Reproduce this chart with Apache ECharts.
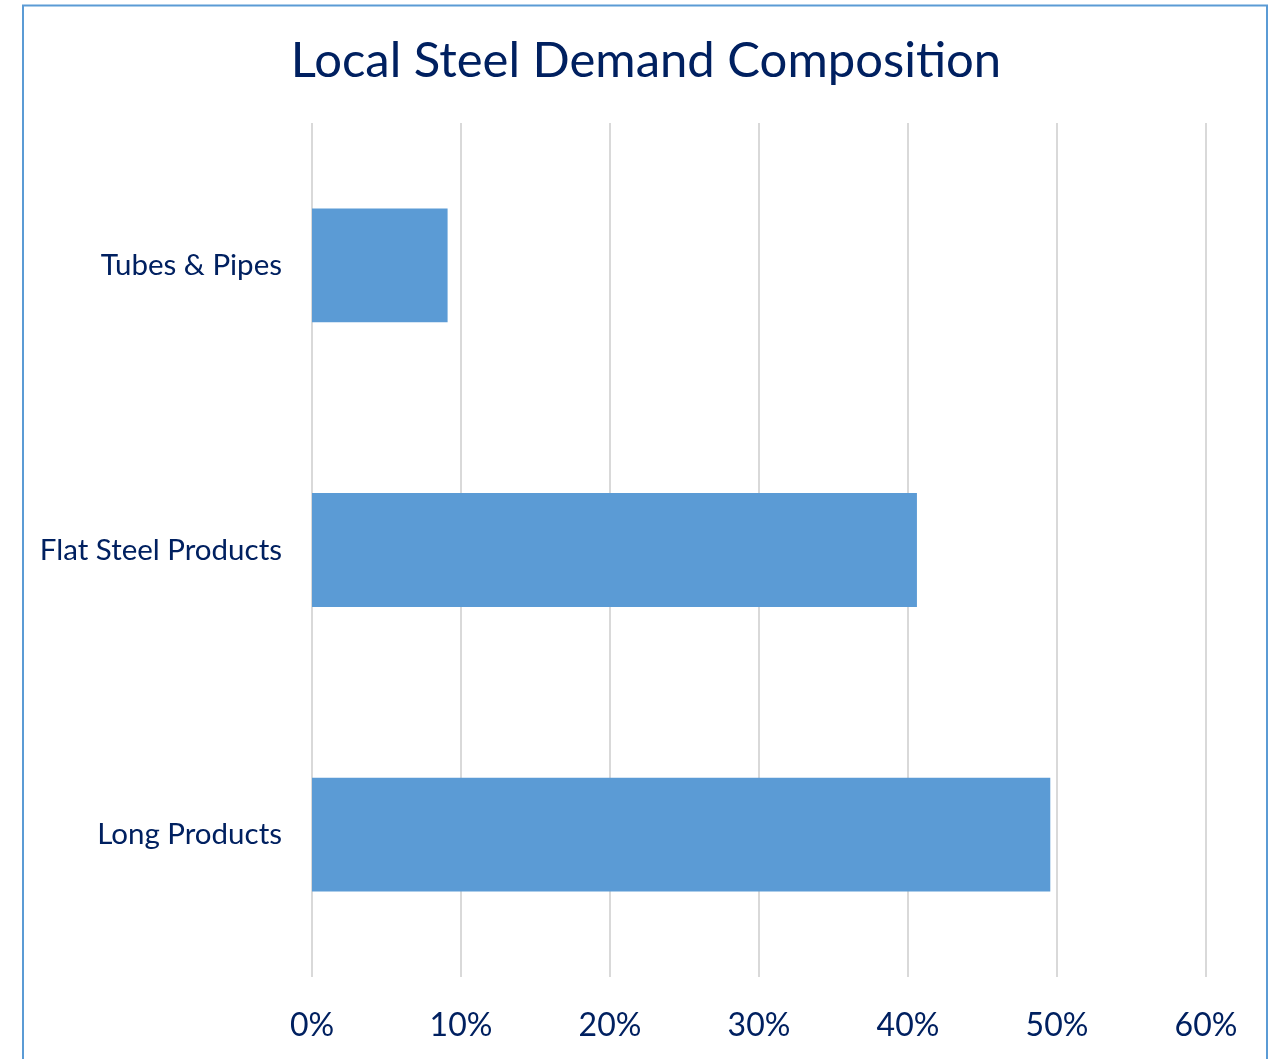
<!DOCTYPE html>
<html><head><meta charset="utf-8">
<script src="https://cdn.jsdelivr.net/npm/echarts@6/dist/echarts.min.js"></script>
<style>html,body{margin:0;padding:0;background:#fff}#c{width:1271px;height:1059px}</style>
</head><body><div id="c"></div>
<script>
const categories = ["Long Products", "Flat Steel Products", "Tubes & Pipes"];
const shares = [49.55, 40.6, 9.1];
const tickValues = [0, 10, 20, 30, 40, 50, 60];

const navy = "#002060";
const chart = echarts.init(document.getElementById('c'));
chart.setOption({
  animation: false,
  backgroundColor: "#fff",
  title: {
    text: "Local Steel Demand Composition",
    left: 641, top: 32, textAlign: "center",
    textStyle: { fontFamily: "Lato", fontSize: 49, fontWeight: "normal", color: navy }
  },
  graphic: [{
    type: "polyline",
    shape: { points: [[23, 1070], [23, 5.5], [1267, 5.5], [1267, 1070]] },
    style: { stroke: "#5b9bd5", lineWidth: 2, fill: null }
  }],
  grid: { left: 312, right: 65, top: 123, bottom: 82 },
  xAxis: {
    type: "value", min: 0, max: 60, interval: 10,
    axisLine: { show: false }, axisTick: { show: false },
    splitLine: { show: true, lineStyle: { color: "#d9d9d9", width: 2 } },
    axisLabel: { formatter: v => v + "%", margin: 33, fontFamily: "Lato", fontSize: 32, color: navy }
  },
  yAxis: {
    type: "category", data: categories,
    axisLine: { show: false }, axisTick: { show: false },
    axisLabel: { margin: 30, fontFamily: "Lato", fontSize: 29.5, color: navy }
  },
  series: [{
    type: "bar", data: shares, barWidth: "40%",
    itemStyle: { color: "#5b9bd5" }
  }]
});
</script></body></html>
